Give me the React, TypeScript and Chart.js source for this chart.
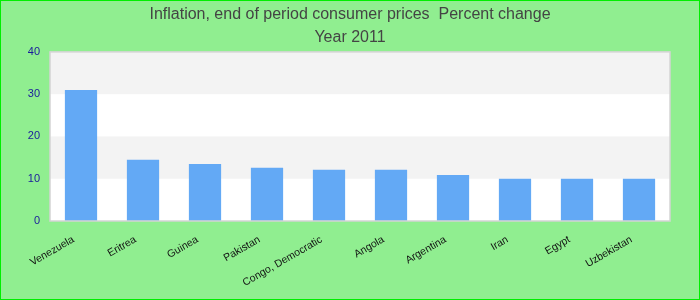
import React, { useEffect, useRef } from "react";
import { Chart, registerables } from "chart.js";

Chart.register(...registerables);

const categories = [
  "Venezuela",
  "Eritrea",
  "Guinea",
  "Pakistan",
  "Congo, Democratic",
  "Angola",
  "Argentina",
  "Iran",
  "Egypt",
  "Uzbekistan",
];
const values = [31.0, 14.5, 13.5, 12.6, 12.1, 12.1, 10.9, 10.0, 10.0, 10.0];
const titleLines = ["Inflation, end of period consumer prices  Percent change", "Year 2011"];
const yTicks = [0, 10, 20, 30, 40];

const bandPlugin = {
  id: "bands",
  beforeDraw(chart: any) {
    const { ctx, chartArea, scales } = chart;
    const y = scales.y;
    ctx.save();
    ctx.fillStyle = "#ffffff";
    ctx.fillRect(chartArea.left, chartArea.top, chartArea.right - chartArea.left, chartArea.bottom - chartArea.top);
    for (let i = 0; i < yTicks.length - 1; i++) {
      if (i % 2 === 1) {
        const top = y.getPixelForValue(yTicks[i + 1]);
        const bot = y.getPixelForValue(yTicks[i]);
        ctx.fillStyle = "#f3f3f3";
        ctx.fillRect(chartArea.left, top, chartArea.right - chartArea.left, bot - top);
      }
    }
    ctx.restore();
  },
  afterDraw(chart: any) {
    const { ctx, chartArea } = chart;
    ctx.save();
    ctx.strokeStyle = "#d4d4d4";
    ctx.lineWidth = 1.5;
    ctx.strokeRect(chartArea.left, chartArea.top, chartArea.right - chartArea.left, chartArea.bottom - chartArea.top);
    ctx.restore();
  },
};

export default function App() {
  const ref = useRef<HTMLCanvasElement | null>(null);
  useEffect(() => {
    document.body.style.margin = "0";
    const chart = new Chart(ref.current as HTMLCanvasElement, {
      type: "bar",
      data: {
        labels: categories,
        datasets: [
          {
            data: values,
            backgroundColor: "#63a9f5",
            borderWidth: 0,
            categoryPercentage: 1,
            barPercentage: 0.52,
          },
        ],
      },
      plugins: [bandPlugin],
      options: {
        animation: false,
        responsive: true,
        maintainAspectRatio: false,
        layout: { padding: 0 },
        plugins: {
          legend: { display: false },
          tooltip: { enabled: false },
          title: {
            display: true,
            text: titleLines,
            color: "#444444",
            font: { family: "Liberation Sans, Arial, sans-serif", size: 16, weight: "normal", lineHeight: 1.45 },
            padding: { top: 2, bottom: 2.5 },
          },
        },
        scales: {
          x: {
            grid: { display: false, drawTicks: false },
            border: { display: false },
            ticks: {
              color: "#111111",
              font: { family: "Liberation Sans, Arial, sans-serif", size: 10.5 },
              minRotation: 30,
              maxRotation: 30,
              autoSkip: false,
              padding: 8,
              callback(this: any, v: any) {
                return this.getLabelForValue(v) + "   ";
              },
            },
            afterFit(scale: any) {
              scale.height = 78;
            },
          },
          y: {
            min: 0,
            max: 40,
            grid: { display: false, drawTicks: false },
            border: { display: false },
            ticks: {
              stepSize: 10,
              color: "#1a1a9c",
              font: { family: "Liberation Sans, Arial, sans-serif", size: 11 },
              padding: 10,
            },
            afterFit(scale: any) {
              scale.width = 49;
            },
          },
          y2: {
            position: "right",
            display: true,
            grid: { display: false, drawTicks: false },
            border: { display: false },
            ticks: { display: false },
            afterFit(scale: any) {
              scale.width = 29;
            },
          },
        },
      },
    });
    return () => chart.destroy();
  }, []);
  return (
    <div
      style={{
        width: 700,
        height: 300,
        boxSizing: "border-box",
        border: "1px solid #00ee00",
        background: "#90ee90",
        position: "relative",
      }}
    >
      <canvas ref={ref} />
    </div>
  );
}
